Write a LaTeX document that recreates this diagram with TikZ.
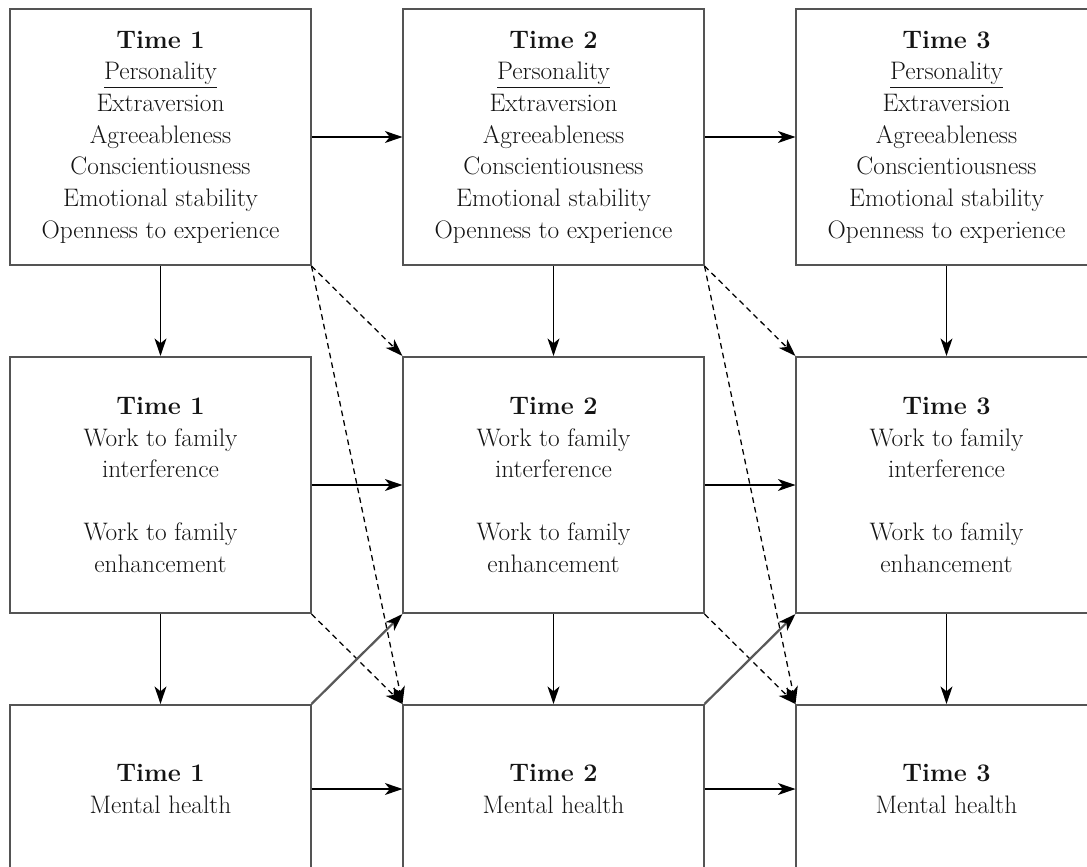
\documentclass[tikz,border=0pt]{standalone}
\usepackage{tikz}
\usetikzlibrary{arrows.meta}
\definecolor{boxgray}{rgb}{0.33, 0.33, 0.33}
\definecolor{textgray}{rgb}{0.08, 0.08, 0.08}

\tikzset{
  wave/.style={draw=boxgray, line width=1.4pt, align=center, text=textgray,
    font=\fontsize{18}{22.5}\selectfont, minimum width=7.5cm, inner sep=0pt},
  toprow/.style={wave, minimum height=6.4cm},
  midrow/.style={wave, minimum height=6.4cm},
  botrow/.style={wave, minimum height=4.2cm},
  link/.style={line width=0.9pt, -{Stealth[length=12.5pt,width=8.5pt,inset=3.5pt]}},
  lag/.style={link, dash pattern=on 4pt off 3pt},
  back/.style={line width=1.6pt, draw=gray!70!black,
    -{Stealth[length=12.5pt,width=8.5pt,inset=3.5pt,black]}}
}

\begin{document}
\begin{tikzpicture}[x=0.025cm, y=-0.025cm]
\useasboundingbox (0,0) rectangle (1087,867);
\clip (0,0) rectangle (1087,867);
%\draw [very thin, gray] (0,0) grid[step=100] (1087,867);

% personality
\node[toprow] (p1) at (160.5,137) {\textbf{Time 1}\\\underline{Personality}\\Extraversion\\Agreeableness\\Conscientiousness\\Emotional stability\\Openness to experience};
\node[toprow] (p2) at (553.5,137) {\textbf{Time 2}\\\underline{Personality}\\Extraversion\\Agreeableness\\Conscientiousness\\Emotional stability\\Openness to experience};
\node[toprow] (p3) at (946.5,137) {\textbf{Time 3}\\\underline{Personality}\\Extraversion\\Agreeableness\\Conscientiousness\\Emotional stability\\Openness to experience};

% work to family
\node[midrow] (w1) at (160.5,485) {\textbf{Time 1}\\Work to family\\interference\\[22.5pt]Work to family\\enhancement};
\node[midrow] (w2) at (553.5,485) {\textbf{Time 2}\\Work to family\\interference\\[22.5pt]Work to family\\enhancement};
\node[midrow] (w3) at (946.5,485) {\textbf{Time 3}\\Work to family\\interference\\[22.5pt]Work to family\\enhancement};

% mental health
\node[botrow] (m1) at (160.5,789) {\textbf{Time 1}\\Mental health};
\node[botrow] (m2) at (553.5,789) {\textbf{Time 2}\\Mental health};
\node[botrow] (m3) at (946.5,789) {\textbf{Time 3}\\Mental health};

% stability paths
\draw [link] (p1) -- (p2);
\draw [link] (p2) -- (p3);
\draw [link] (w1) -- (w2);
\draw [link] (w2) -- (w3);
\draw [link] (m1) -- (m2);
\draw [link] (m2) -- (m3);

% within time
\draw [link] (p1) -- (w1);
\draw [link] (p2) -- (w2);
\draw [link] (p3) -- (w3);
\draw [link] (w1) -- (m1);
\draw [link] (w2) -- (m2);
\draw [link] (w3) -- (m3);

% cross-lagged
\draw [lag] (p1.south east) -- (w2.north west);
\draw [lag] (p1.south east) -- (m2.north west);
\draw [lag] (w1.south east) -- (m2.north west);
\draw [lag] (p2.south east) -- (w3.north west);
\draw [lag] (p2.south east) -- (m3.north west);
\draw [lag] (w2.south east) -- (m3.north west);
\draw [back] (m1.north east) -- (w2.south west);
\draw [back] (m2.north east) -- (w3.south west);
\end{tikzpicture}
\end{document}
